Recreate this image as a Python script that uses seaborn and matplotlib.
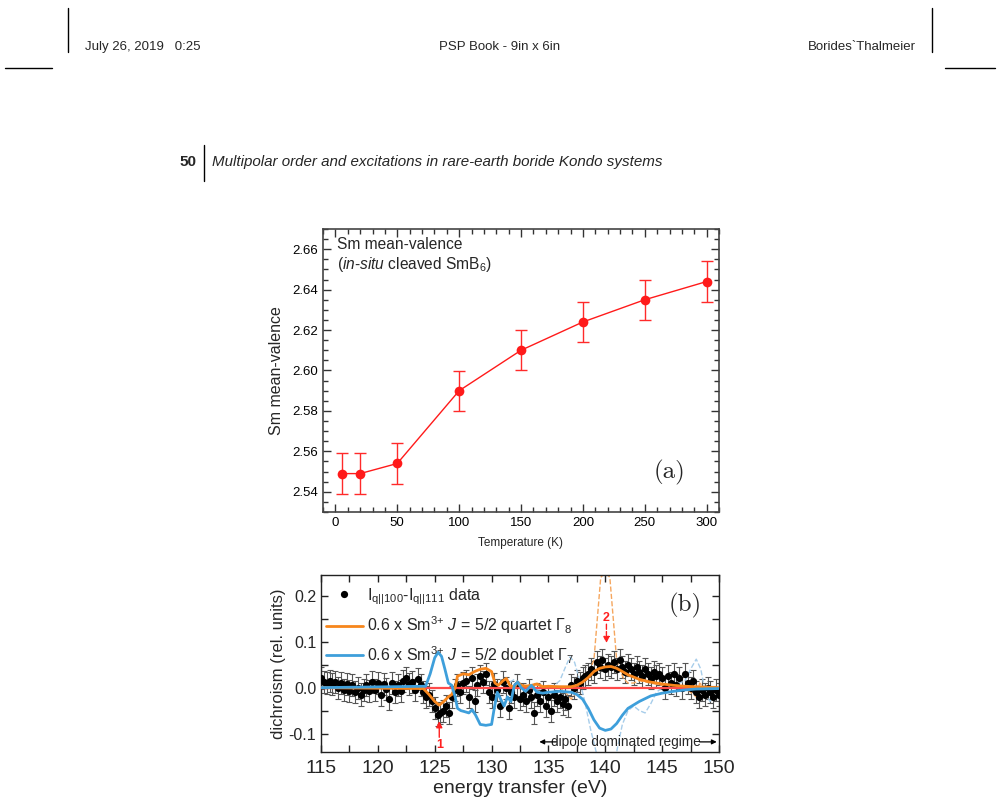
import numpy as np
import pandas as pd
import matplotlib
matplotlib.use("Agg")
from matplotlib import pyplot as plt
from matplotlib.lines import Line2D
from matplotlib.ticker import MultipleLocator
import seaborn as sns

# panel (a): Sm mean valence vs temperature
temps = [5, 20, 50, 100, 150, 200, 250, 300]
valence = [2.549, 2.549, 2.554, 2.590, 2.610, 2.624, 2.635, 2.644]
valence_err = [0.01, 0.01, 0.01, 0.01, 0.01, 0.01, 0.01, 0.01]

# panel (b): measured dichroism, 0.25 eV steps from 115 eV
dichroism = [
    0.020, 0.012, 0.010, 0.015, 0.008, 0.012, 0.000, 0.010,    # 115-116.75
    -0.005, 0.008, -0.008, 0.005, -0.010, 0.000, -0.015, -0.005,  # 117-118.75
    0.005, -0.008, 0.012, -0.005, 0.010, -0.015, 0.008, -0.002,   # 119-120.75
    -0.025, 0.010, -0.010, 0.005, -0.008, 0.015, 0.020, 0.008,    # 121-122.75
    0.012, -0.005, 0.018, 0.005, -0.010, -0.020, -0.015, -0.030,  # 123-124.75
    -0.045, -0.060, -0.055, -0.050, -0.040, -0.055, -0.020, -0.005,  # 125-126.75
    0.005, -0.010, 0.010, 0.015, -0.020, 0.020, -0.030, 0.005,    # 127-128.75
    0.025, 0.012, 0.030, -0.010, -0.020, 0.008, -0.005, -0.040,   # 129-130.75
    0.012, 0.000, -0.045, -0.010, -0.020, 0.005, -0.025, -0.015,  # 131-132.75
    -0.030, -0.005, -0.020, -0.055, -0.015, -0.030, -0.010, -0.040,  # 133-134.75
    -0.020, -0.050, -0.015, -0.030, -0.020, -0.035, -0.025, -0.040,  # 135-136.75
    0.005, 0.000, 0.015, 0.010, 0.020, 0.025, 0.030, 0.040,      # 137-138.75
    0.035, 0.055, 0.045, 0.060, 0.040, 0.050, 0.045, 0.055,      # 139-140.75
    0.040, 0.060, 0.045, 0.035, 0.050, 0.040, 0.030, 0.045,      # 141-142.75
    0.035, 0.025, 0.040, 0.030, 0.020, 0.035, 0.025, 0.030,      # 143-144.75
    0.020, 0.000, 0.025, 0.010, 0.030, 0.005, 0.020, 0.000,      # 145-146.75
    0.030, 0.010, 0.000, 0.015, -0.010, -0.020, -0.005, -0.015,  # 147-148.75
    0.000, -0.010, -0.020, -0.005, -0.015,                        # 149-150
]
energy = np.arange(len(dichroism)) * 0.25 + 115
dichroism_err = [0.024] * len(dichroism)

quartet_e = [115, 124.0, 124.5, 125.0, 125.4, 125.8, 126.2, 126.5, 126.8, 127.0, 127.5,
             128.0, 128.5, 129.0, 129.5, 130.0, 130.3, 130.6, 131.0, 131.3, 131.6, 132.0,
             132.3, 132.6, 133.0, 133.5, 134.0, 134.5, 135.0, 136.0, 137.0, 137.5, 138.0,
             138.5, 139.0, 139.5, 140.0, 140.5, 141.0, 141.5, 142.0, 143.0, 144.0, 145.0,
             146.0, 147.0, 148.0, 150.0]
quartet_v = [0.0, -0.002, -0.015, -0.030, -0.038, -0.030, -0.020, -0.015, 0.000, 0.025, 0.030,
             0.028, 0.035, 0.040, 0.042, 0.035, 0.010, 0.005, 0.015, 0.020, 0.005, 0.000,
             0.012, 0.005, 0.003, 0.005, 0.008, 0.002, 0.003, 0.002, 0.002, 0.005, 0.012,
             0.022, 0.035, 0.042, 0.045, 0.046, 0.042, 0.035, 0.028, 0.018, 0.012, 0.008,
             0.005, 0.003, 0.002, 0.000]

doublet_e = [115, 124.2, 124.6, 125.0, 125.3, 125.6, 125.9, 126.2, 126.5, 126.8, 127.0,
             127.3, 127.6, 128.0, 128.3, 128.6, 129.0, 129.5, 130.0, 130.2, 130.5, 130.8,
             131.1, 131.4, 131.7, 132.0, 132.3, 132.6, 133.0, 133.5, 134.0, 134.5, 135.0,
             136.0, 137.0, 137.5, 138.0, 138.5, 139.0, 139.5, 140.0, 140.5, 141.0, 141.5,
             142.0, 143.0, 144.0, 145.0, 146.0, 147.0, 148.0, 150.0]
doublet_v = [0.0, 0.003, 0.030, 0.065, 0.077, 0.068, 0.040, 0.010, 0.005, -0.020, -0.045,
             -0.050, -0.052, -0.055, -0.048, -0.060, -0.080, -0.082, -0.080, -0.050, -0.010, -0.025,
             -0.040, -0.020, -0.030, 0.005, 0.012, 0.000, -0.008, 0.005, -0.010, -0.012, -0.010,
             -0.008, -0.010, -0.015, -0.025, -0.045, -0.070, -0.088, -0.093, -0.090, -0.078, -0.060,
             -0.045, -0.030, -0.018, -0.012, -0.008, -0.005, -0.003, -0.002]

quartet_dash_e = [132.0, 134.0, 136.0, 136.5, 137.0, 137.3, 137.6, 138.0, 138.5, 139.0, 139.3,
                  139.6, 140.0, 140.4, 140.7, 141.0, 141.3, 141.6, 142.0, 142.5, 143.0, 144.0,
                  145.0, 146.0, 147.0, 147.5, 148.0, 148.3, 148.7, 149.0, 149.5, 150.0]
quartet_dash_v = [0.005, 0.005, 0.000, -0.010, -0.025, -0.015, 0.010, 0.020, 0.030, 0.060, 0.150,
                  0.240, 0.250, 0.240, 0.150, 0.060, 0.040, 0.020, 0.010, 0.010, 0.015, 0.010,
                  0.005, 0.005, 0.000, -0.010, -0.020, 0.010, 0.000, -0.010, -0.015, -0.005]

doublet_dash_e = [130.5, 131.5, 132.0, 132.5, 133.0, 134.0, 135.0, 135.5, 136.0, 136.5, 136.9,
                  137.3, 137.7, 138.2, 138.7, 139.2, 139.6, 140.5, 141.0, 141.5, 142.0, 142.5,
                  143.0, 143.5, 144.0, 144.5, 145.0, 146.0, 147.0, 147.5, 148.0, 148.4, 148.8,
                  149.2, 149.6, 150.0]
doublet_dash_v = [-0.005, 0.010, 0.018, 0.010, 0.000, -0.005, 0.000, 0.005, 0.015, 0.045, 0.067,
                  0.055, 0.020, -0.030, -0.090, -0.140, -0.160, -0.160, -0.140, -0.080, -0.050, -0.040,
                  -0.050, -0.055, -0.035, -0.010, 0.000, 0.005, 0.015, 0.040, 0.062, 0.040, -0.010,
                  -0.030, -0.015, 0.000]

sns.set_theme(style="ticks")
plt.rcParams['font.family'] = ['Liberation Sans', 'DejaVu Sans']
plt.rcParams['mathtext.fontset'] = 'custom'
plt.rcParams['mathtext.rm'] = 'Liberation Sans'
plt.rcParams['mathtext.it'] = 'Liberation Sans:italic'
plt.rcParams['mathtext.default'] = 'regular'

W, H = 1000, 808
fig = plt.figure(figsize=(10, 8.08), dpi=100)


def fx(x):
    return x / W


def fy(y):
    return 1 - y / H


# page furniture
def page_line(x0, y0, x1, y1, lw=1.0):
    fig.add_artist(Line2D([fx(x0), fx(x1)], [fy(y0), fy(y1)], color='black', lw=lw,
                          transform=fig.transFigure))


page_line(68, 8, 68, 52)
page_line(932, 8, 932, 52)
page_line(5, 68, 52, 68)
page_line(945, 68, 995, 68)
page_line(204, 145, 204, 181)

narrow = ['Liberation Sans Narrow', 'Liberation Sans']
fig.text(fx(85), fy(47), "July 26, 2019   0:25", family=narrow, fontsize=9.5, va='center')
fig.text(fx(500), fy(47), "PSP Book - 9in x 6in", family=narrow, fontsize=9.5,
         va='center', ha='center')
fig.text(fx(916), fy(47), "Borides`Thalmeier", family=narrow, fontsize=9.5,
         va='center', ha='right')
fig.text(fx(196), fy(162), "50", family=narrow, fontsize=11, weight='bold',
         va='center', ha='right')
fig.text(fx(212), fy(162), "Multipolar order and excitations in rare-earth boride Kondo systems",
         family=narrow, fontsize=10.9, style='italic', va='center')

# panel (a)
ax1 = fig.add_axes([fx(323), fy(512), (719 - 323) / W, (512 - 229) / H])
dfa = pd.DataFrame({'T': temps, 'v': valence})
ax1.errorbar(temps, valence, yerr=valence_err, fmt='none', ecolor='#ff2a2a',
             elinewidth=1.0, capsize=4, capthick=1.0)
sns.lineplot(data=dfa, x='T', y='v', ax=ax1, color='#ff1a1a', lw=1.0, marker='o',
             markersize=7, markeredgewidth=0)
ax1.set_xlim(-10, 310)
ax1.set_ylim(2.53, 2.67)
ax1.xaxis.set_major_locator(MultipleLocator(50))
ax1.xaxis.set_minor_locator(MultipleLocator(10))
ax1.yaxis.set_major_locator(MultipleLocator(0.02))
ax1.yaxis.set_minor_locator(MultipleLocator(0.005))
ax1.yaxis.set_major_formatter(matplotlib.ticker.FormatStrFormatter('%.2f'))
ax1.tick_params(which='both', direction='in', top=True, right=True, color='#333333',
                labelsize=9.5, labelcolor='black')
ax1.tick_params(which='major', length=6, width=1.0)
ax1.tick_params(which='minor', length=3.5, width=1.0)
for s in ax1.spines.values():
    s.set_color('#444444')
    s.set_linewidth(1.2)
ax1.set_xlabel("Temperature (K)", fontsize=8.5, labelpad=6)
ax1.set_ylabel("Sm mean-valence", fontsize=11.5, labelpad=6)
ax1.text(0.035, 0.97, "Sm mean-valence\n($\\mathit{in}$-$\\mathit{situ}$ cleaved SmB$_6$)",
         transform=ax1.transAxes, fontsize=11.2, va='top', ha='left', linespacing=1.2)
ax1.text(0.875, 0.14, "(a)", transform=ax1.transAxes, family='cmr10', fontsize=18,
         ha='center', va='center')

# panel (b)
ax2 = fig.add_axes([fx(321), fy(752), (719 - 321) / W, (752 - 575) / H])
ax2.errorbar(energy, dichroism, yerr=dichroism_err, fmt='none', ecolor='#555555',
             elinewidth=0.8, capsize=2.4, capthick=0.8, zorder=2)
ax2.plot(energy, dichroism, 'o', color='black', markersize=5.2, markeredgewidth=0,
         zorder=3, label="I$_{q||100}$-I$_{q||111}$ data")
sns.lineplot(x=quartet_dash_e, y=quartet_dash_v, ax=ax2, color='#f5a65e', lw=1.0,
             linestyle='--', sort=False, zorder=2)
sns.lineplot(x=doublet_dash_e, y=doublet_dash_v, ax=ax2, color='#a7cdea', lw=1.0,
             linestyle='--', sort=False, zorder=2)
ax2.axhline(0, color='#ff4a4a', lw=1.6, zorder=4)
sns.lineplot(x=quartet_e, y=quartet_v, ax=ax2, color='#f7861c', lw=2.0, sort=False, zorder=5,
             label="0.6 x Sm$^{3{+}}$ $\\mathit{J}$ = 5/2 quartet $\\Gamma_8$")
sns.lineplot(x=doublet_e, y=doublet_v, ax=ax2, color='#3e9fdb', lw=2.0, sort=False, zorder=5,
             label="0.6 x Sm$^{3{+}}$ $\\mathit{J}$ = 5/2 doublet $\\Gamma_7$")
ax2.set_xlim(115, 150)
ax2.set_ylim(-0.14, 0.245)
ax2.xaxis.set_major_locator(MultipleLocator(5))
ax2.xaxis.set_minor_locator(MultipleLocator(2.5))
ax2.yaxis.set_major_locator(MultipleLocator(0.1))
ax2.yaxis.set_minor_locator(MultipleLocator(0.05))
ax2.yaxis.set_major_formatter(matplotlib.ticker.FuncFormatter(
    lambda v, p: "0.0" if abs(v) < 1e-9 else f"{v:.1f}"))
ax2.tick_params(which='both', direction='in', top=True, right=True, color='#222222')
ax2.tick_params(axis='x', labelsize=14, pad=6)
ax2.tick_params(axis='y', labelsize=11.5)
ax2.tick_params(which='major', length=5, width=1.0)
ax2.tick_params(which='minor', length=5, width=1.0)
for s in ax2.spines.values():
    s.set_color('#222222')
    s.set_linewidth(1.0)
ax2.set_xlabel("energy transfer (eV)", fontsize=14, labelpad=2)
ax2.set_ylabel("dichroism (rel. units)", fontsize=12, labelpad=2)
leg = ax2.legend(loc='upper left', bbox_to_anchor=(0.0, 0.965), frameon=False, fontsize=11.5,
                 borderaxespad=0, borderpad=0.3, handlelength=2.3, handletextpad=0.3,
                 labelspacing=0.5)
ax2.text(0.915, 0.83, "(b)", transform=ax2.transAxes, family='cmr10', fontsize=18,
         ha='center', va='center')

# peak markers
ax2.annotate("", xy=(125.4, -0.073), xytext=(125.4, -0.108),
             arrowprops=dict(arrowstyle='-|>', color='#ff2020', lw=1.0, mutation_scale=9,
                             shrinkA=0, shrinkB=0))
ax2.text(125.4, -0.125, "1", color='#ff2020', fontsize=9, weight='bold',
         ha='center', va='center')
ax2.annotate("", xy=(140.1, 0.097), xytext=(140.1, 0.138),
             arrowprops=dict(arrowstyle='-|>', color='#ff2020', lw=1.0, ls='--',
                             mutation_scale=9, shrinkA=0, shrinkB=0))
ax2.text(140.1, 0.152, "2", color='#ff2020', fontsize=9, weight='bold',
         ha='center', va='center')

# dipole regime annotation
ax2.text(141.8, -0.118, "dipole dominated regime", fontsize=9.8, ha='center', va='center')
ax2.annotate("", xy=(134.2, -0.118), xytext=(135.7, -0.118),
             arrowprops=dict(arrowstyle='-|>', color='black', lw=0.9, mutation_scale=7,
                             shrinkA=0, shrinkB=0))
ax2.annotate("", xy=(149.8, -0.118), xytext=(148.3, -0.118),
             arrowprops=dict(arrowstyle='-|>', color='black', lw=0.9, mutation_scale=7,
                             shrinkA=0, shrinkB=0))

fig.savefig("out.png", dpi=100)
